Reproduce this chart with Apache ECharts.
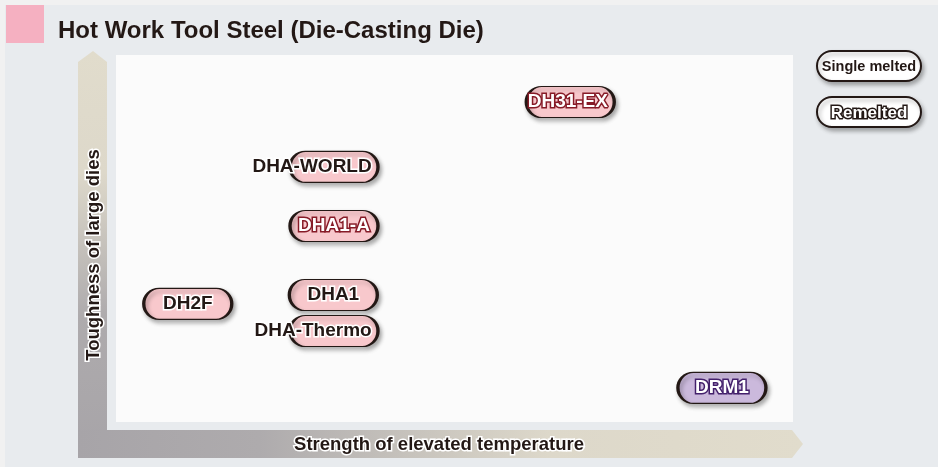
<!DOCTYPE html>
<html>
<head>
<meta charset="utf-8">
<script src="https://cdn.jsdelivr.net/npm/echarts@6/dist/echarts.min.js"></script>
<style>
  html, body { margin: 0; padding: 0; background: #f0f0f0; }
  #chart { width: 938px; height: 467px; }
</style>
</head>
<body>
<div id="chart"></div>
<script>
// ---- Data ----
const chartTitle = 'Hot Work Tool Steel (Die-Casting Die)';
const xAxisName = 'Strength of elevated temperature';
const yAxisName = 'Toughness of large dies';
const materials = ['DH31-EX', 'DHA-WORLD', 'DHA1-A', 'DHA1', 'DHA-Thermo', 'DH2F', 'DRM1'];
const strengthValues = [6.71, 3.22, 3.22, 3.21, 3.22, 1.06, 8.95];
const toughnessValues = [8.72, 6.95, 5.34, 3.46, 2.48, 3.22, 0.93];
const meltingType = ['Remelted', 'Single melted', 'Remelted', 'Single melted', 'Single melted', 'Single melted', 'Remelted'];
const steelFamily = ['Hot work', 'Hot work', 'Hot work', 'Hot work', 'Hot work', 'Hot work', 'Matrix'];
const legendItems = ['Single melted', 'Remelted'];

// ---- Styles ----
const FONT = 'Arial, "Liberation Sans", Helvetica, sans-serif';
const INK = '#231815';
const familyFill = { 'Hot work': '#f8c8cc', 'Matrix': '#cbb9dc' };
const familyOutline = { 'Hot work': '#861b27', 'Matrix': '#43206b' };
const PILL_W = 88, PILL_H = 31;
const LABEL_SIZE = 19;
const pillPath = 'path://M15.5 0H72.5A15.5 15.5 0 0 1 72.5 31H15.5A15.5 15.5 0 0 1 15.5 0Z';

const measureCtx = document.createElement('canvas').getContext('2d');
function textWidth(t, size) {
  measureCtx.font = 'bold ' + size + 'px ' + FONT;
  return measureCtx.measureText(t).width;
}

const seriesData = materials.map((name, i) => {
  const remelted = meltingType[i] === 'Remelted';
  const fam = steelFamily[i];
  const overflow = textWidth(name, LABEL_SIZE) > PILL_W - 8;
  return {
    name: name,
    value: [strengthValues[i], toughnessValues[i]],
    itemStyle: { color: familyFill[fam] },
    label: {
      position: overflow ? 'insideRight' : 'inside',
      distance: 8,
      color: remelted ? '#ffffff' : INK,
      textBorderColor: remelted ? familyOutline[fam] : '#ffffff',
      textBorderWidth: 3
    }
  };
});

function legendPill(y, text, remelted) {
  return {
    type: 'group',
    children: [
      {
        type: 'rect',
        shape: { x: 817, y: y - 15, width: 104, height: 30, r: 15 },
        style: {
          fill: '#ffffff', stroke: INK, lineWidth: 2,
          shadowBlur: 4, shadowOffsetX: 2, shadowOffsetY: 3, shadowColor: 'rgba(0,0,0,0.3)'
        }
      },
      {
        type: 'text',
        x: 869, y: y + 1,
        style: {
          text: text, fontFamily: FONT, fontWeight: 'bold', fontSize: remelted ? 17 : 14.5,
          fill: remelted ? '#ffffff' : INK,
          stroke: remelted ? INK : null, lineWidth: remelted ? 3 : 0,
          align: 'center', verticalAlign: 'middle'
        }
      }
    ]
  };
}

const axisTitleStyle = {
  fontFamily: FONT, fontWeight: 'bold', fontSize: 18.5, fill: INK,
  stroke: '#ffffff', lineWidth: 3, align: 'center', verticalAlign: 'middle'
};

const chart = echarts.init(document.getElementById('chart'), null, { renderer: 'canvas' });
chart.setOption({
  backgroundColor: '#e8ebee',
  animation: false,
  grid: {
    show: true, backgroundColor: '#fbfbfb', borderWidth: 0,
    left: 116, top: 55, width: 677, height: 367
  },
  xAxis: {
    type: 'value', min: 0, max: 10,
    axisLine: { show: false }, axisTick: { show: false }, axisLabel: { show: false }, splitLine: { show: false }
  },
  yAxis: {
    type: 'value', min: 0, max: 10,
    axisLine: { show: false }, axisTick: { show: false }, axisLabel: { show: false }, splitLine: { show: false }
  },
  graphic: [
    { type: 'rect', shape: { x: 0, y: 0, width: 938, height: 5 }, style: { fill: '#f1f1f1' }, z: -5 },
    { type: 'rect', shape: { x: 0, y: 0, width: 5, height: 467 }, style: { fill: '#f1f1f1' }, z: -5 },
    { type: 'rect', shape: { x: 6, y: 5, width: 38, height: 38 }, style: { fill: '#f5b0c1' } },
    {
      type: 'text', x: 58, y: 31,
      style: { text: chartTitle, fontFamily: FONT, fontWeight: 'bold', fontSize: 24, fill: INK, verticalAlign: 'middle' }
    },
    {
      type: 'polygon', z: -1,
      shape: { points: [[78, 62], [93, 51], [107, 62], [107, 458], [78, 458]] },
      style: {
        fill: new echarts.graphic.LinearGradient(0, 0, 0, 1, [
          { offset: 0, color: '#e1dccc' }, { offset: 0.3, color: '#ddd8ca' },
          { offset: 0.65, color: '#aeabad' }, { offset: 1, color: '#a7a4a8' }
        ])
      }
    },
    {
      type: 'polygon', z: -1,
      shape: { points: [[78, 430], [792, 430], [803, 444], [792, 458], [78, 458]] },
      style: {
        fill: new echarts.graphic.LinearGradient(0, 0, 1, 0, [
          { offset: 0, color: '#a7a4a8' }, { offset: 0.25, color: '#aeabad' },
          { offset: 0.65, color: '#ddd8ca' }, { offset: 1, color: '#e1dccc' }
        ])
      }
    },
    { type: 'text', x: 439, y: 445, style: Object.assign({ text: xAxisName }, axisTitleStyle) },
    { type: 'text', x: 94, y: 255, rotation: Math.PI / 2, style: Object.assign({ text: yAxisName }, axisTitleStyle) },
    legendPill(66, legendItems[0], false),
    legendPill(112, legendItems[1], true)
  ],
  series: [{
    type: 'scatter',
    symbol: pillPath,
    symbolSize: [PILL_W, PILL_H],
    itemStyle: {
      borderColor: INK, borderWidth: 2, opacity: 1,
      shadowBlur: 4, shadowOffsetX: 2, shadowOffsetY: 3, shadowColor: 'rgba(0,0,0,0.3)'
    },
    label: {
      show: true, formatter: '{b}',
      fontFamily: FONT, fontWeight: 'bold', fontSize: LABEL_SIZE
    },
    emphasis: { disabled: true },
    data: seriesData
  }]
});
</script>
</body>
</html>
